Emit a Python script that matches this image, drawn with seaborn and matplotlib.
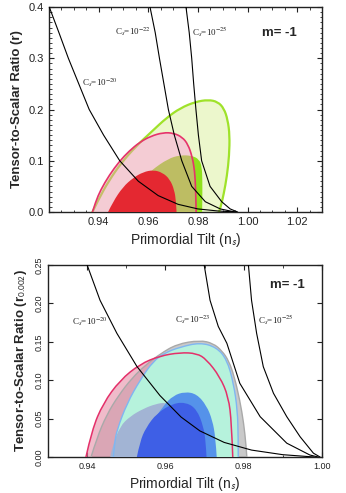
import matplotlib
matplotlib.use("Agg")
import matplotlib.pyplot as plt
import seaborn as sns
import pandas as pd
from matplotlib.path import Path
from matplotlib.patches import PathPatch
from matplotlib.ticker import MultipleLocator

# ---------------- data: top panel (r vs n_s) ----------------
top_c20_x = [0.9201, 0.9240, 0.9278, 0.9320, 0.9362, 0.9420, 0.9485, 0.9560, 0.9640, 0.9720, 0.9800, 0.9880, 0.9956]
top_c20_y = [0.400, 0.350, 0.300, 0.250, 0.200, 0.150, 0.100, 0.060, 0.032, 0.015, 0.006, 0.002, 0.0]
top_c22_x = [0.9607, 0.9628, 0.9645, 0.9663, 0.9681, 0.9705, 0.9735, 0.9775, 0.9830, 0.9890, 0.9950]
top_c22_y = [0.400, 0.350, 0.300, 0.250, 0.200, 0.150, 0.100, 0.050, 0.020, 0.006, 0.0]
top_c25_x = [0.9752, 0.9765, 0.9775, 0.9783, 0.9792, 0.9802, 0.9815, 0.9849, 0.9896, 0.9930, 0.9960]
top_c25_y = [0.400, 0.350, 0.300, 0.250, 0.200, 0.150, 0.100, 0.050, 0.020, 0.006, 0.0]

green2_x = [0.9375, 0.9400, 0.9440, 0.9490, 0.9550, 0.9614, 0.9674, 0.9730, 0.9790, 0.9842,
            0.9880, 0.9905, 0.9920, 0.9928, 0.9926, 0.9917, 0.9904, 0.9892, 0.9885]
green2_y = [0.0, 0.025, 0.060, 0.095, 0.128, 0.157, 0.184, 0.203, 0.215, 0.219,
            0.215, 0.202, 0.180, 0.150, 0.110, 0.070, 0.035, 0.010, 0.0]
green1_x = [0.9440, 0.9480, 0.9540, 0.9614, 0.9680, 0.9728, 0.9775, 0.9805, 0.9816, 0.9818, 0.9818, 0.9817]
green1_y = [0.0, 0.025, 0.050, 0.082, 0.104, 0.111, 0.110, 0.103, 0.088, 0.060, 0.030, 0.0]
pink2_x = [0.9375, 0.9388, 0.9408, 0.9443, 0.9484, 0.9523, 0.9565, 0.9610, 0.9660, 0.9702,
           0.9737, 0.9760, 0.9777, 0.9787, 0.9791, 0.9793]
pink2_y = [0.0, 0.020, 0.043, 0.072, 0.099, 0.119, 0.136, 0.148, 0.155, 0.154,
           0.146, 0.132, 0.108, 0.080, 0.045, 0.0]
red1_x = [0.9438, 0.9458, 0.9498, 0.9540, 0.9580, 0.9620, 0.9657, 0.9687, 0.9705, 0.9712, 0.9714]
red1_y = [0.0, 0.020, 0.049, 0.067, 0.078, 0.082, 0.077, 0.064, 0.043, 0.020, 0.0]

# ---------------- data: bottom panel (r_0.002 vs n_s) ----------------
bot_c20_x = [0.9400, 0.9433, 0.9476, 0.9527, 0.9586, 0.9640, 0.9688, 0.9750, 0.9820, 0.9900, 0.9980]
bot_c20_y = [0.250, 0.204, 0.161, 0.118, 0.080, 0.052, 0.034, 0.019, 0.009, 0.003, 0.0]
bot_c23_x = [0.9699, 0.9714, 0.9735, 0.9757, 0.9790, 0.9842, 0.9910, 0.9969, 0.9990]
bot_c23_y = [0.250, 0.204, 0.170, 0.148, 0.096, 0.0525, 0.018, 0.0026, 0.0]
bot_c25_x = [0.9812, 0.9820, 0.9833, 0.9850, 0.9876, 0.9910, 0.9944, 0.9978, 0.9995]
bot_c25_y = [0.250, 0.204, 0.161, 0.1176, 0.083, 0.0525, 0.0264, 0.005, 0.0]

gray2_x = [0.9410, 0.9425, 0.9450, 0.9480, 0.9515, 0.9550, 0.9586, 0.9629, 0.9688, 0.9722,
           0.9745, 0.9762, 0.9776, 0.9790, 0.9800, 0.9806, 0.9808]
gray2_y = [0.0, 0.025, 0.055, 0.080, 0.103, 0.120, 0.134, 0.147, 0.152, 0.148,
           0.138, 0.125, 0.1046, 0.074, 0.044, 0.015, 0.0]
bpink2_x = [0.9397, 0.9412, 0.9441, 0.9484, 0.9535, 0.9586, 0.9637, 0.9680, 0.9705, 0.9739,
            0.9761, 0.9769, 0.9772]
bpink2_y = [0.0, 0.035, 0.070, 0.100, 0.121, 0.1316, 0.136, 0.135, 0.127, 0.1046,
            0.0785, 0.044, 0.0]
cyan2_x = [0.9467, 0.9470, 0.9476, 0.9502, 0.9535, 0.9569, 0.9600, 0.9637, 0.9688, 0.9730,
           0.9757, 0.9774, 0.9784, 0.9786, 0.9786]
cyan2_y = [0.0, 0.018, 0.035, 0.070, 0.100, 0.125, 0.136, 0.143, 0.149, 0.143,
           0.127, 0.096, 0.061, 0.025, 0.0]
gblue1_x = [0.9459, 0.9465, 0.9484, 0.9510, 0.9544, 0.9575, 0.9600, 0.9630, 0.9640, 0.9640]
gblue1_y = [0.0, 0.015, 0.040, 0.053, 0.063, 0.069, 0.071, 0.066, 0.040, 0.0]
mblue1_x = [0.9540, 0.9560, 0.9595, 0.9620, 0.9650, 0.9680, 0.9705, 0.9720, 0.9728, 0.9731]
mblue1_y = [0.0, 0.040, 0.067, 0.080, 0.085, 0.082, 0.067, 0.048, 0.025, 0.0]
dblue1_x = [0.9527, 0.9535, 0.9550, 0.9578, 0.9620, 0.9654, 0.9680, 0.9697, 0.9703, 0.9705]
dblue1_y = [0.0, 0.020, 0.038, 0.057, 0.070, 0.071, 0.062, 0.040, 0.020, 0.0]

top_xticks = [0.94, 0.96, 0.98, 1.00, 1.02]
top_yticks = [0.0, 0.1, 0.2, 0.3, 0.4]
bot_xticks = [0.94, 0.96, 0.98, 1.00]
bot_yticks = [0.00, 0.05, 0.10, 0.15, 0.20, 0.25]

# ---------------- style ----------------
sns.set_style("ticks")
plt.rcParams['font.family'] = ['Liberation Sans', 'DejaVu Sans']
plt.rcParams['mathtext.fontset'] = 'stix'

fig = plt.figure(figsize=(3.46, 4.93), dpi=100)
ax1 = fig.add_axes([49/346, 1-212/493, 273/346, 205/493])
ax2 = fig.add_axes([48/346, 1-457/493, 274/346, 192/493])


def smooth_path(xs, ys, closed):
    """Quadratic-Bezier rendering of the read boundary points (smooth drawing)."""
    pts = list(zip(xs, ys))
    verts = [pts[0]]
    codes = [Path.MOVETO]
    n = len(pts)
    for i in range(1, n - 1):
        if i == n - 2:
            end = pts[-1]
        else:
            end = ((pts[i][0] + pts[i + 1][0]) / 2, (pts[i][1] + pts[i + 1][1]) / 2)
        verts += [pts[i], end]
        codes += [Path.CURVE3, Path.CURVE3]
    if closed:
        verts.append(pts[0])
        codes.append(Path.CLOSEPOLY)
    return Path(verts, codes)


def region(ax, xs, ys, fc, alpha=1.0, z=1):
    ax.add_patch(PathPatch(smooth_path(xs, ys, True), facecolor=fc, edgecolor="none",
                           alpha=alpha, zorder=z))


def outline(ax, xs, ys, ec, lw, z):
    ax.add_patch(PathPatch(smooth_path(xs, ys, False), facecolor="none", edgecolor=ec,
                           lw=lw, zorder=z, capstyle="round", joinstyle="round"))


def curve(ax, xs, ys):
    df = pd.DataFrame({"x": xs, "y": ys})
    sns.lineplot(data=df, x="x", y="y", ax=ax, sort=False, color="black",
                 lw=0.8, estimator=None, zorder=10)


# ---- top panel ----
region(ax1, green2_x, green2_y, "#ecf7cc", z=1)
region(ax1, pink2_x, pink2_y, "white", z=2)
outline(ax1, green2_x, green2_y, "#9fe22a", 1.6, 3)
region(ax1, green1_x, green1_y, "#8fe01c", z=4)
region(ax1, pink2_x, pink2_y, "#eb9bab", alpha=0.5, z=5)
outline(ax1, pink2_x, pink2_y, "#e6336b", 1.2, 6)
region(ax1, red1_x, red1_y, "#e42831", z=7)
for xs, ys in [(top_c20_x, top_c20_y), (top_c22_x, top_c22_y), (top_c25_x, top_c25_y)]:
    curve(ax1, xs, ys)

ax1.set_xlim(0.92, 1.03)
ax1.set_ylim(0.0, 0.4)
ax1.set_xticks(top_xticks)
ax1.set_xticklabels([f"{v:.2f}" for v in top_xticks])
ax1.set_yticks(top_yticks)
ax1.set_yticklabels([f"{v:.1f}" for v in top_yticks])
ax1.xaxis.set_minor_locator(MultipleLocator(0.005))
ax1.yaxis.set_minor_locator(MultipleLocator(0.01))
ax1.set_xlabel(r"Primordial Tilt (n$_\mathsf{s}$)", fontsize=10, labelpad=3)
ax1.set_ylabel("Tensor-to-Scalar Ratio (r)", fontsize=9.5, fontweight="bold", labelpad=4)

sfont = dict(family="Liberation Serif", fontsize=6.5, color="#222222")
ax1.text(0.121, 0.63, r"C$_s$=10$^{-20}$", transform=ax1.transAxes, **sfont, va="center")
ax1.text(0.242, 0.878, r"C$_s$=10$^{-22}$", transform=ax1.transAxes, **sfont, va="center")
ax1.text(0.524, 0.878, r"C$_s$=10$^{-25}$", transform=ax1.transAxes, **sfont, va="center")
ax1.text(0.78, 0.873, "m= -1", transform=ax1.transAxes, fontsize=9.5, fontweight="bold", va="center")

# ---- bottom panel ----
region(ax2, gray2_x, gray2_y, "#c9c9c9", z=1)
region(ax2, bpink2_x, bpink2_y, "#e68fa8", alpha=0.6, z=2)
region(ax2, cyan2_x, cyan2_y, "#b6f2dc", z=3)
region(ax2, gblue1_x, gblue1_y, "#a2b4d4", z=4)
region(ax2, mblue1_x, mblue1_y, "#5592ea", z=5)
region(ax2, dblue1_x, dblue1_y, "#3e5fe6", z=6)
outline(ax2, gray2_x, gray2_y, "#a9a9a9", 1.0, 7)
outline(ax2, cyan2_x, cyan2_y, "#7fb6f2", 1.0, 8)
outline(ax2, bpink2_x, bpink2_y, "#e4306a", 1.1, 9)
for xs, ys in [(bot_c20_x, bot_c20_y), (bot_c23_x, bot_c23_y), (bot_c25_x, bot_c25_y)]:
    curve(ax2, xs, ys)

ax2.set_xlim(0.93, 1.0)
ax2.set_ylim(0.0, 0.25)
ax2.set_xticks(bot_xticks)
ax2.set_xticklabels([f"{v:.2f}" for v in bot_xticks], fontsize=6.5)
ax2.set_yticks(bot_yticks)
ax2.set_yticklabels([f"{v:.2f}" for v in bot_yticks], fontsize=6.5, rotation=90, va="center")
ax2.xaxis.set_minor_locator(MultipleLocator(0.01))
ax2.set_xlabel(r"Primordial Tilt (n$_\mathsf{s}$)", fontsize=10, labelpad=3)
ax2.set_ylabel(r"Tensor-to-Scalar Ratio (r$_{\mathsf{0.002}}$)", fontsize=9.5,
               fontweight="bold", labelpad=4)

ax2.text(0.088, 0.703, r"C$_s$=10$^{-20}$", transform=ax2.transAxes, **sfont, va="center")
ax2.text(0.463, 0.714, r"C$_s$=10$^{-23}$", transform=ax2.transAxes, **sfont, va="center")
ax2.text(0.766, 0.714, r"C$_s$=10$^{-25}$", transform=ax2.transAxes, **sfont, va="center")
ax2.text(0.81, 0.896, "m= -1", transform=ax2.transAxes, fontsize=9.5, fontweight="bold", va="center")

for ax in (ax1, ax2):
    for s in ax.spines.values():
        s.set_linewidth(1.0)
        s.set_color("#222222")
    ax.tick_params(which="both", direction="in", top=True, right=True, colors="#222222")
    ax.tick_params(which="major", length=3.5, width=0.8)
    ax.tick_params(which="minor", length=1.8, width=0.6)
ax1.tick_params(axis="both", which="major", labelsize=8)

fig.savefig("out.png", dpi=100)
